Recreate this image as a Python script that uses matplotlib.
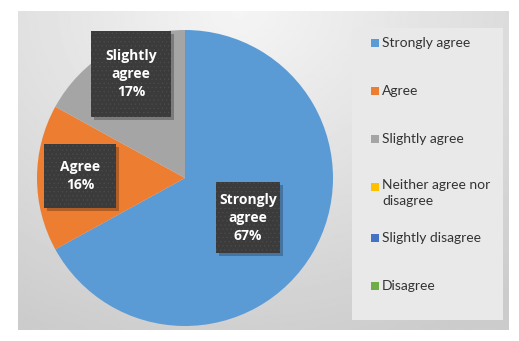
import numpy as np
import matplotlib.pyplot as plt
from matplotlib.patches import Rectangle

# data
categories = ["Strongly agree", "Agree", "Slightly agree",
              "Neither agree nor disagree", "Slightly disagree", "Disagree"]
percents = [67, 16, 17, 0, 0, 0]
colors = ["#5B9BD5", "#ED7D31", "#A5A5A5", "#FFC000", "#4472C4", "#70AD47"]
label_names = ["Strongly\nagree", "Agree", "Slightly\nagree"]

# label box centres (data coords) and sizes, one per visible slice
box_pos = [(0.426, -0.270), (-0.709, 0.014), (-0.365, 0.703)]
box_size = [(0.43, 0.48), (0.49, 0.43), (0.54, 0.58)]

plt.rcParams['font.family'] = ['Lato', 'DejaVu Sans']
plt.rcParams['hatch.linewidth'] = 0.4

W, H = 519, 341
fig = plt.figure(figsize=(W / 100, H / 100), dpi=100)
fig.patch.set_facecolor("white")

# chart area background with soft radial gradient
bg = fig.add_axes([18 / W, 1 - 330 / H, 491 / W, 319 / H])
yy, xx = np.mgrid[0:1:200j, 0:1:300j]
r = np.sqrt(((xx - 0.45) / 0.9) ** 2 + ((yy - 0.0) / 1.1) ** 2)
shade = 0.96 - 0.16 * np.clip(r, 0, 1)
bg.imshow(shade, cmap="gray", vmin=0, vmax=1, aspect="auto",
          extent=[0, 1, 1, 0], interpolation="bilinear")
bg.set_axis_off()

# legend box
lg = fig.add_axes([352 / W, 1 - 320 / H, 151 / W, 292 / H])
lg.set_xlim(0, 151)
lg.set_ylim(320, 28)
lg.add_patch(Rectangle((0, 28), 151, 292, facecolor="#e9e9e9", edgecolor="none"))
lg.set_axis_off()

legend_rows = [43, 91, 139, 187, 238, 286]
for cat, col, y in zip(categories, colors, legend_rows):
    lg.add_patch(Rectangle((19, y - 4), 8, 8, facecolor=col, edgecolor="none"))
    if cat == "Neither agree nor disagree":
        lg.text(30, y - 8, "Neither agree nor\ndisagree", fontsize=10, color="#333333",
                va="top", ha="left", linespacing=1.4)
    else:
        lg.text(30, y, cat, fontsize=10, color="#333333", va="center", ha="left")

# pie
ax = fig.add_axes([(185 - 148) / W, 1 - (178 + 148) / H, 296 / W, 296 / H])
ax.pie(percents, colors=colors, startangle=90, counterclock=False,
       wedgeprops=dict(linewidth=0))
ax.set_xlim(-1, 1)
ax.set_ylim(-1, 1)

for name, pct, (x, y), (w, h) in zip(label_names, percents, box_pos, box_size):
    ax.add_patch(Rectangle((x - w / 2 + 0.02, y - h / 2 - 0.02), w, h,
                           facecolor="#000000", alpha=0.25, edgecolor="none", zorder=3))
    ax.add_patch(Rectangle((x - w / 2, y - h / 2), w, h, facecolor="#3b3b3b",
                           edgecolor="#4c4c4c", hatch="....", linewidth=0, zorder=4))
    ax.text(x, y, f"{name}\n{pct}%", ha="center", va="center", color="white",
            fontsize=10, fontweight="bold", linespacing=1.4, zorder=5,
            family=["Open Sans", "DejaVu Sans"])

fig.savefig("out.png", dpi=100)
